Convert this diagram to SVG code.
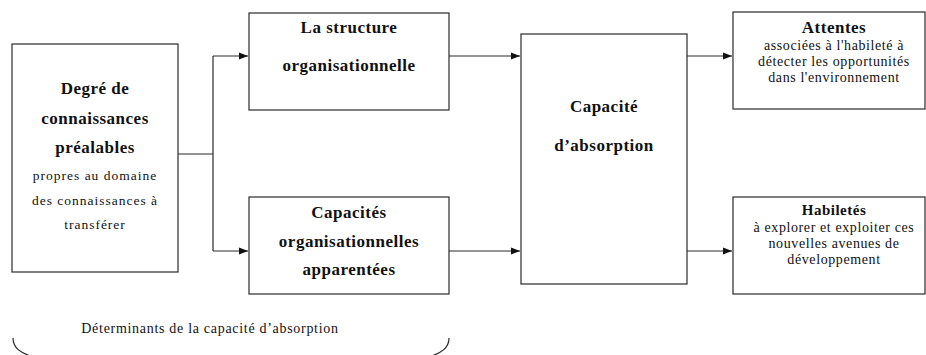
<svg xmlns="http://www.w3.org/2000/svg" width="926" height="355" viewBox="0 0 926 355">
<style>
.box{fill:#fff;stroke:#2a2a2a;stroke-width:1.2}
.ln{fill:none;stroke:#2a2a2a;stroke-width:1.2}
text{font-family:'Liberation Serif','DejaVu Serif',serif;fill:#111;text-anchor:middle}
.b{font-weight:bold;font-size:17px;letter-spacing:0.5px}
.s{font-size:13.5px;letter-spacing:1px}
.r{font-size:14px;letter-spacing:0.6px}
</style>
<defs>
<marker id="ah" markerWidth="10" markerHeight="8" refX="9" refY="4" orient="auto" markerUnits="userSpaceOnUse">
<path d="M0,0.5 L9,4 L0,7.5 Z" fill="#111"/>
</marker>
</defs>
<rect width="926" height="355" fill="#fff"/>
<g id="connectors">
<path class="ln" d="M178,154 H213"/>
<path class="ln" d="M213,56 V251"/>
<path class="ln" d="M213,56 H248" marker-end="url(#ah)"/>
<path class="ln" d="M213,251 H248" marker-end="url(#ah)"/>
<path class="ln" d="M449,56 H520" marker-end="url(#ah)"/>
<path class="ln" d="M449,251 H520" marker-end="url(#ah)"/>
<path class="ln" d="M687,56 H732" marker-end="url(#ah)"/>
<path class="ln" d="M687,251 H732" marker-end="url(#ah)"/>
</g>
<g id="degre">
<rect class="box" x="12" y="44" width="166" height="228"/>
<text class="b" x="95" y="94">Degré de</text>
<text class="b" x="95" y="124">connaissances</text>
<text class="b" x="95" y="153">préalables</text>
<text class="s" x="95" y="180">propres au domaine</text>
<text class="s" x="95" y="205">des connaissances à</text>
<text class="s" x="95" y="229">transférer</text>
</g>
<g id="structure">
<rect class="box" x="249" y="13" width="200" height="97"/>
<text class="b" x="349" y="33">La structure</text>
<text class="b" x="349" y="71">organisationnelle</text>
</g>
<g id="capacites">
<rect class="box" x="249" y="197" width="200" height="97"/>
<text class="b" x="349" y="218">Capacités</text>
<text class="b" x="349" y="247">organisationnelles</text>
<text class="b" x="349" y="275">apparentées</text>
</g>
<g id="absorption">
<rect class="box" x="521" y="34" width="166" height="250"/>
<text class="b" x="604" y="112">Capacité</text>
<text class="b" x="604" y="151">d’absorption</text>
</g>
<g id="attentes">
<rect class="box" x="733" y="12" width="192" height="97"/>
<text class="b" x="834" y="33">Attentes</text>
<text class="r" x="834" y="50">associées à l'habileté à</text>
<text class="r" x="834" y="66">détecter les opportunités</text>
<text class="r" x="834" y="82">dans l'environnement</text>
</g>
<g id="habiletes">
<rect class="box" x="733" y="197" width="192" height="97"/>
<text class="b" x="834" y="215" style="font-size:15px">Habiletés</text>
<text class="r" x="834" y="232">à explorer et exploiter ces</text>
<text class="r" x="834" y="248">nouvelles avenues de</text>
<text class="r" x="834" y="264">développement</text>
</g>
<g id="determinants">
<path class="ln" d="M13,338 C13,348 20,353 36,358 M449,338 C449,348 442,353 426,358"/>
<text x="210" y="333" style="font-size:14px;letter-spacing:0.7px">Déterminants de la capacité d’absorption</text>
</g>
</svg>
